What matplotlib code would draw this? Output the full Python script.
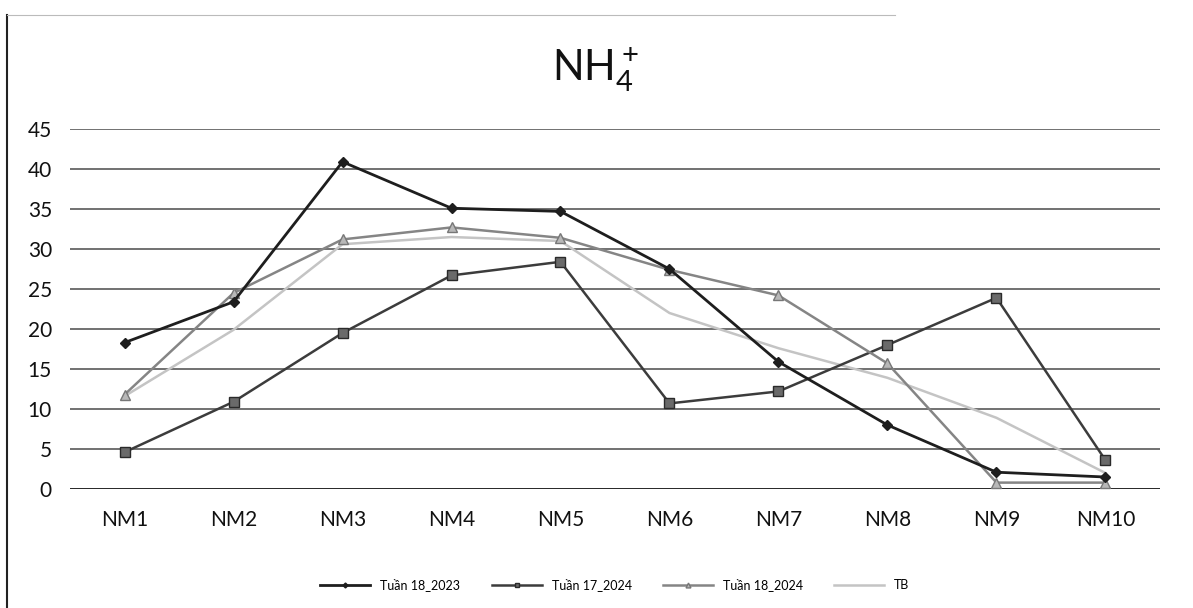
import matplotlib.pyplot as plt
from matplotlib.lines import Line2D
import numpy as np

plt.rcParams['font.family'] = ['Lato', 'DejaVu Sans']
plt.rcParams['mathtext.default'] = 'regular'

sites = ['NM1', 'NM2', 'NM3', 'NM4', 'NM5', 'NM6', 'NM7', 'NM8', 'NM9', 'NM10']
tuan18_2023 = [18.3, 23.4, 40.9, 35.1, 34.7, 27.5, 15.9, 8.0, 2.1, 1.5]
tuan17_2024 = [4.6, 10.9, 19.5, 26.7, 28.4, 10.7, 12.2, 18.0, 23.9, 3.6]
tuan18_2024 = [11.8, 24.5, 31.2, 32.7, 31.4, 27.4, 24.2, 15.7, 0.8, 0.8]
tb = [11.6, 19.9, 30.6, 31.5, 31.0, 22.0, 17.6, 13.9, 8.9, 2.0]

fig = plt.figure(figsize=(11.93, 6.08), dpi=100)
ax = fig.add_axes([0.0587, 0.1957, 0.9136, 0.5921])

x = np.arange(len(sites))
ax.plot(x, tuan18_2023, color='#1e1e1e', lw=2.0, marker='D', ms=5, label='Tuần 18_2023', zorder=4)
ax.plot(x, tuan17_2024, color='#3c3c3c', lw=1.8, marker='s', ms=7, mfc='#6a6a6a', mec='#2a2a2a', label='Tuần 17_2024', zorder=3)
ax.plot(x, tuan18_2024, color='#858585', lw=1.8, marker='^', ms=7, mfc='#b8b8b8', mec='#777777', label='Tuần 18_2024', zorder=3)
ax.plot(x, tb, color='#c4c4c4', lw=1.8, label='TB', zorder=2)

ax.set_xlim(-0.5, len(sites) - 0.5)
ax.set_ylim(0, 45)
ax.set_yticks(range(0, 46, 5))
ax.set_xticks(x)
ax.set_xticklabels(sites)
ax.yaxis.grid(True, color='#4a4a4a', lw=1.1)
ax.set_axisbelow(True)
for s in ax.spines.values():
    s.set_visible(False)
ax.axhline(0, color='#2a2a2a', lw=1.4, zorder=1)
ax.tick_params(axis='both', length=0, labelsize=15, colors='#111111')
ax.tick_params(axis='y', pad=13)
ax.tick_params(axis='x', pad=15)

fig.text(0.499, 0.885, 'NH$_4^+$', ha='center', va='center', fontsize=30, color='#111111')

ax.legend(loc='center', bbox_to_anchor=(0.5, -0.265), ncol=4, frameon=False,
          fontsize=9, handlelength=4, columnspacing=2.5, markerscale=0.5)

# frame edges
fig.add_artist(Line2D([0.006, 0.006], [0.0, 0.975], color='#222222', lw=1.5))
fig.add_artist(Line2D([0.006, 0.75], [0.975, 0.975], color='#bbbbbb', lw=0.8))

fig.savefig('out.png', dpi=100)
